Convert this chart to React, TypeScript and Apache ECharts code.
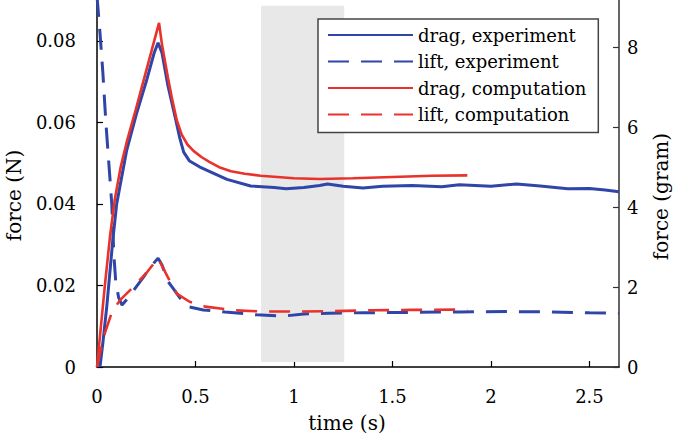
import React, { useEffect, useRef } from "react";
import * as echarts from "echarts";

// time (s) and force (N)
const T_DRAG_EXP = [0.015, 0.03, 0.05, 0.08, 0.1, 0.15, 0.2, 0.25, 0.29, 0.31, 0.33, 0.36, 0.4, 0.42, 0.44, 0.47, 0.52, 0.57, 0.66, 0.78, 0.9, 0.96, 1.05, 1.13, 1.17, 1.25, 1.35, 1.45, 1.6, 1.75, 1.84, 2.0, 2.13, 2.25, 2.39, 2.5, 2.58, 2.65];
const F_DRAG_EXP = [0.0, 0.006, 0.015, 0.031, 0.04, 0.053, 0.062, 0.07, 0.077, 0.0795, 0.077, 0.069, 0.0606, 0.0562, 0.0527, 0.0505, 0.0491, 0.048, 0.046, 0.0444, 0.044, 0.0437, 0.044, 0.0445, 0.0449, 0.0443, 0.0439, 0.0443, 0.0445, 0.0442, 0.0447, 0.0443, 0.0449, 0.0444, 0.0437, 0.0438, 0.0434, 0.043];

const T_LIFT_EXP = [0.0, 0.015, 0.03, 0.045, 0.06, 0.075, 0.085, 0.095, 0.11, 0.127, 0.15, 0.18, 0.235, 0.28, 0.31, 0.33, 0.36, 0.38, 0.42, 0.47, 0.54, 0.65, 0.81, 0.95, 1.05, 1.18, 1.35, 1.6, 1.84, 2.1, 2.3, 2.5, 2.65];
const F_LIFT_EXP = [0.091, 0.082, 0.072, 0.06, 0.05, 0.04, 0.028, 0.021, 0.017, 0.0152, 0.0165, 0.0184, 0.022, 0.025, 0.0267, 0.025, 0.021, 0.0197, 0.017, 0.0147, 0.014, 0.0135, 0.0128, 0.0125, 0.013, 0.0132, 0.0133, 0.0134, 0.0135, 0.0136, 0.0135, 0.0133, 0.0132];

const T_DRAG_COMP = [0.0, 0.02, 0.04, 0.066, 0.09, 0.12, 0.15, 0.2, 0.25, 0.3, 0.315, 0.33, 0.36, 0.38, 0.405, 0.43, 0.46, 0.49, 0.53, 0.57, 0.62, 0.68, 0.75, 0.83, 1.0, 1.13, 1.3, 1.5, 1.7, 1.88];
const F_DRAG_COMP = [0.0, 0.01, 0.02, 0.032, 0.041, 0.049, 0.055, 0.0637, 0.0727, 0.0817, 0.0844, 0.079, 0.071, 0.066, 0.0605, 0.057, 0.0545, 0.053, 0.0515, 0.0503, 0.049, 0.048, 0.0474, 0.0469, 0.0463, 0.0461, 0.0463, 0.0466, 0.0469, 0.047];

const T_LIFT_COMP = [0.0, 0.015, 0.04, 0.076, 0.117, 0.18, 0.25, 0.31, 0.36, 0.405, 0.47, 0.55, 0.7, 0.85, 1.0, 1.2, 1.4, 1.6, 1.88];
const F_LIFT_COMP = [0.0, 0.0035, 0.0083, 0.0135, 0.0164, 0.0194, 0.023, 0.0267, 0.022, 0.018, 0.016, 0.0148, 0.0139, 0.0136, 0.0136, 0.0137, 0.0139, 0.014, 0.0141];

const SERIES_NAMES = ["drag, experiment", "lift, experiment", "drag, computation", "lift, computation"];

// shaded window (s)
const BAND_T = [0.833, 1.255];
const BAND_F = [0.0012, 0.0886];

const X_TICKS = [0, 0.5, 1, 1.5, 2, 2.5];
const Y_TICKS_N = [0, 0.02, 0.04, 0.06, 0.08];
const Y_TICKS_GRAM = [0, 2, 4, 6, 8];

const X_MAX = 2.65;
const Y_MAX_N = 0.09;
const G = 0.00980665;

const zip = (a: number[], b: number[]) => a.map((v, i) => [v, b[i]]);

const FONT = "DejaVu Serif";
const BLUE = "#2f45a8";
const RED = "#e8322b";

export default function App() {
  const ref = useRef<HTMLDivElement>(null);
  useEffect(() => {
    if (!ref.current) return;
    const chart = echarts.init(ref.current, null, { renderer: "svg" });
    const tick = { fontFamily: FONT, fontSize: 18, color: "#000" };
    const nm = { fontFamily: FONT, fontSize: 20, color: "#000" };
    chart.setOption({
      animation: false,
      textStyle: { fontFamily: FONT },
      grid: { left: 97, right: 66, top: 0, bottom: 74, containLabel: false, outerBoundsMode: "none" },
      legend: {
        data: SERIES_NAMES,
        orient: "vertical",
        left: 318,
        top: 19,
        backgroundColor: "#fff",
        borderColor: "#444",
        borderWidth: 1.5,
        padding: [7, 12, 9, 9],
        itemWidth: 85,
        itemHeight: 14,
        itemGap: 8.5,
        itemStyle: { opacity: 0 },
        textStyle: { fontFamily: FONT, fontSize: 18, color: "#000" },
      },
      xAxis: {
        type: "value",
        min: 0,
        max: X_MAX,
        name: "time (s)",
        nameLocation: "middle",
        nameMoveOverlap: false,
        nameGap: 46,
        nameTextStyle: { ...nm, padding: [0, 22, 0, 0] },
        axisLine: { lineStyle: { color: "#000", width: 1.5 } },
        axisTick: { inside: true, length: 6, customValues: X_TICKS, lineStyle: { color: "#000", width: 1.2 } },
        axisLabel: { ...tick, margin: 20, customValues: X_TICKS },
        splitLine: { show: false },
      },
      yAxis: [
        {
          type: "value",
          min: 0,
          max: Y_MAX_N,
          position: "left",
          name: "force (N)",
          nameLocation: "middle",
          nameMoveOverlap: false,
          nameRotate: 90,
          nameGap: 73,
          nameTextStyle: { ...nm, padding: [0, 24, 0, 0] },
          axisLine: { show: true, lineStyle: { color: "#000", width: 1.5 } },
          axisTick: { show: true, inside: true, length: 6, customValues: Y_TICKS_N, lineStyle: { color: "#000", width: 1.2 } },
          axisLabel: { ...tick, margin: 21, customValues: Y_TICKS_N, formatter: (v: number) => (v === 0 ? "0" : v.toFixed(2)) },
          splitLine: { show: false },
        },
        {
          type: "value",
          min: 0,
          max: Y_MAX_N / G,
          position: "right",
          name: "force (gram)",
          nameLocation: "middle",
          nameMoveOverlap: false,
          nameRotate: 90,
          nameGap: 32,
          nameTextStyle: { ...nm, padding: [0, 26, 0, 0] },
          axisLine: { show: true, lineStyle: { color: "#333", width: 1.5 } },
          axisTick: { show: true, inside: true, length: 6, customValues: Y_TICKS_GRAM, lineStyle: { color: "#333", width: 1.2 } },
          axisLabel: { ...tick, margin: 8, customValues: Y_TICKS_GRAM },
          splitLine: { show: false },
        },
      ],
      series: [
        {
          type: "line",
          name: "band",
          data: [],
          z: 1,
          silent: true,
          markArea: {
            silent: true,
            itemStyle: { color: "#e8e8e8" },
            label: { show: false },
            data: [[{ coord: [BAND_T[0], BAND_F[0]] }, { coord: [BAND_T[1], BAND_F[1]] }]],
          },
        },
        {
          type: "line",
          name: SERIES_NAMES[0],
          data: zip(T_DRAG_EXP, F_DRAG_EXP),
          symbol: "none",
          showSymbol: false,
          z: 2,
          lineStyle: { color: BLUE, width: 3 },
          itemStyle: { color: BLUE },
        },
        {
          type: "line",
          name: SERIES_NAMES[1],
          data: zip(T_LIFT_EXP, F_LIFT_EXP),
          symbol: "none",
          showSymbol: false,
          z: 2,
          lineStyle: { color: BLUE, width: 3, type: [21, 12] },
          itemStyle: { color: BLUE },
        },
        {
          type: "line",
          name: SERIES_NAMES[2],
          data: zip(T_DRAG_COMP, F_DRAG_COMP),
          symbol: "none",
          showSymbol: false,
          z: 3,
          lineStyle: { color: RED, width: 2.6 },
          itemStyle: { color: RED },
        },
        {
          type: "line",
          name: SERIES_NAMES[3],
          data: zip(T_LIFT_COMP, F_LIFT_COMP),
          symbol: "none",
          showSymbol: false,
          z: 3,
          lineStyle: { color: RED, width: 2.6, type: [21, 12] },
          itemStyle: { color: RED },
        },
      ],
    });
    return () => chart.dispose();
  }, []);
  return <div ref={ref} style={{ position: "fixed", left: 0, top: 0, width: 685, height: 441, background: "#fff" }} />;
}
